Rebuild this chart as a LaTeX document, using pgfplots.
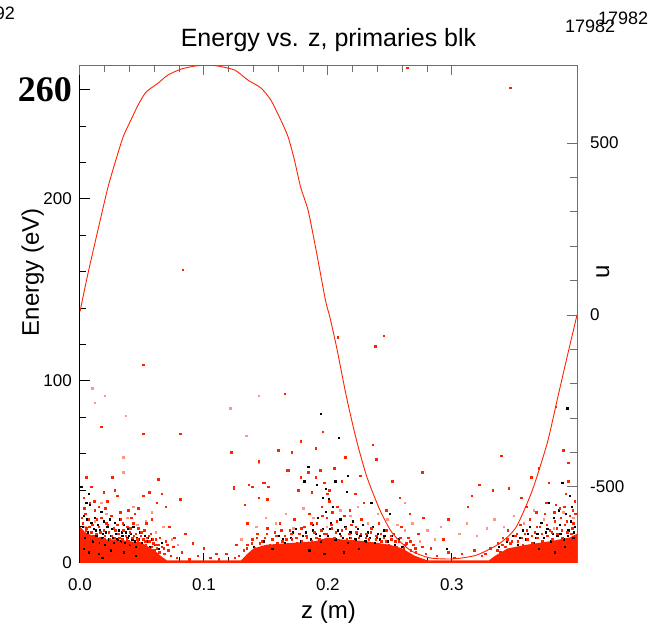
\documentclass[border=0pt]{standalone}
\usepackage{pgfplots}
\pgfplotsset{compat=1.18}
\usepackage{fontspec}
\setmainfont{Liberation Sans}
\newfontfamily\bigserif{Liberation Serif}

\definecolor{pr}{RGB}{255,34,0}
\definecolor{pk}{RGB}{255,150,130}
\definecolor{ax}{RGB}{110,110,110}

\begin{document}
\begin{tikzpicture}
\begin{axis}[
    scale only axis,
    width=497pt, height=498pt,
    xmin=0, xmax=0.401,
    ymin=0, ymax=273.6,
    axis x line*=bottom, axis y line*=left,
    axis line style={-, black, line width=1pt},
    tick align=inside,
    major tick length=10pt, minor tick length=6pt,
    tick style={black, line width=1pt},
    xtick={0,0.1,0.2,0.3},
    xticklabels={0.0,0.1,0.2,0.3},
    minor x tick num=4,
    ytick={0,100,200,260},
    yticklabels={0,100,200,{\fontsize{36}{36}\selectfont\bigserif\bfseries 260}},
    minor ytick={20,40,60,80,120,140,160,180,220,240},
    xticklabel style={font=\fontsize{17}{17}\selectfont, inner sep=0pt, anchor=north, yshift=-15pt},
    yticklabel style={font=\fontsize{17}{17}\selectfont, inner sep=0pt, anchor=east, xshift=-8pt},
    xlabel={z (m)},
    xlabel style={font=\fontsize{24}{24}\selectfont, at={(axis description cs:0.5,-0.098)}, anchor=center},
    ylabel={Energy (eV)},
    ylabel style={font=\fontsize{24}{24}\selectfont, at={(axis description cs:-0.095,0.584)}, anchor=center},
    title={Energy vs. z, primaries blk},
    title style={font=\fontsize{25}{25}\selectfont, at={(axis description cs:0.5,1)}, anchor=base, yshift=12pt},
]
% dense band near the floor
\addplot[fill=pr, draw=none] coordinates {
(0,0) (0,20) (0.004,17) (0.01,15) (0.02,13) (0.03,13) (0.04,12) (0.05,11) (0.055,9) (0.06,7)
(0.065,4) (0.07,1.5) (0.13,1.5) (0.135,5) (0.14,8) (0.15,10) (0.17,11) (0.19,12) (0.20,14)
(0.21,13) (0.23,12) (0.25,10) (0.26,8) (0.27,4) (0.28,1.5) (0.33,1.5) (0.335,4) (0.345,8)
(0.36,10) (0.38,12) (0.395,14) (0.401,16) (0.401,0)} \closedcycle;

% pale red points
\addplot[pk, only marks, mark=square*, mark size=0.75pt] coordinates {
(0.004,20)(0.012,23)(0.021,27)(0.029,18)(0.038,25)(0.046,21)(0.053,23)(0.061,17)(0.067,20)(0.074,13)
(0.017,33)(0.043,31)(0.058,28)(0.079,10)(0.142,20)(0.150,25)(0.158,22)(0.166,27)(0.172,19)(0.180,30)
(0.188,25)(0.199,20)(0.210,29)(0.218,26)(0.224,31)(0.232,22)(0.240,27)(0.248,24)(0.256,21)(0.262,18)
(0.268,22)(0.274,12)(0.280,18)(0.286,13)(0.291,20)(0.306,16)(0.312,22)(0.320,15)(0.328,19)(0.334,24)
(0.342,20)(0.350,26)(0.358,22)(0.366,29)(0.374,24)(0.382,19)(0.390,28)(0.398,25)(0.130,13)(0.262,33)
(0.010,96)(0.020,92)(0.012,88)(0.037,81)(0.035,58)(0.035,50)(0.121,85)(0.144,92)(0.134,70)(0.144,55)
};

% black points (primaries)
\addplot[black, only marks, mark=square*, mark size=0.65pt] coordinates {
(0.002,20)(0.003,26)(0.004,14)(0.005,33)(0.006,17)(0.008,32)(0.009,22)(0.010,12)(0.011,19)(0.012,25)
(0.013,15)(0.014,21)(0.015,11)(0.016,18)(0.017,28)(0.018,14)(0.019,23)(0.020,10)(0.021,17)(0.022,20)
(0.023,13)(0.024,24)(0.025,15)(0.026,19)(0.027,11)(0.028,22)(0.029,16)(0.030,13)(0.031,18)(0.032,24)
(0.033,12)(0.034,15)(0.035,21)(0.036,11)(0.037,17)(0.038,14)(0.039,19)(0.040,10)(0.041,16)(0.042,13)
(0.043,20)(0.044,12)(0.045,9)(0.046,14)(0.048,17)(0.050,11)(0.052,15)(0.054,12)(0.056,9)(0.058,13)
(0.060,10)(0.063,8)(0.066,11)(0.001,42)(0.007,38)(0.003,8)(0.007,6)(0.015,5)(0.025,7)(0.035,6)
(0.045,4)(0.018,3)
(0.140,9)(0.148,12)(0.155,8)(0.160,15)(0.165,11)(0.170,14)(0.174,19)(0.178,12)(0.181,45)(0.184,53)
(0.182,17)(0.186,13)(0.188,21)(0.190,16)(0.192,25)(0.194,82)(0.194,12)(0.196,36)(0.196,19)(0.198,28)
(0.200,15)(0.202,22)(0.204,31)(0.206,45)(0.206,13)(0.208,18)(0.209,69)(0.210,24)(0.212,14)(0.214,20)
(0.215,39)(0.216,48)(0.216,11)(0.218,17)(0.220,23)(0.222,13)(0.224,19)(0.226,15)(0.228,21)(0.230,12)
(0.232,17)(0.234,14)(0.236,20)(0.238,11)(0.240,16)(0.242,13)(0.245,18)(0.248,12)(0.251,15)(0.254,10)
(0.257,13)(0.260,9)(0.191,43)(0.185,7)(0.197,5)(0.213,6)(0.225,8)(0.296,8)(0.250,27)(0.235,33)
(0.338,9)(0.344,12)(0.349,15)(0.353,10)(0.357,18)(0.360,13)(0.363,20)(0.366,11)(0.369,16)(0.372,22)
(0.374,14)(0.377,19)(0.380,12)(0.382,25)(0.385,15)(0.387,21)(0.389,44)(0.390,13)(0.392,27)(0.393,85)
(0.394,18)(0.396,23)(0.397,31)(0.398,14)(0.399,20)(0.395,37)(0.386,29)(0.378,33)(0.370,8)(0.383,6)
(0.391,9)
(0.0055,24)(0.0125,18)(0.0185,16)(0.0265,14)(0.0335,17)(0.0395,15)(0.0475,13)(0.0545,14)(0.1635,13)(0.1715,17)
(0.1795,15)(0.1875,18)(0.1935,15)(0.2015,19)(0.2095,16)(0.2175,14)(0.2235,16)(0.2315,15)(0.2395,14)(0.2455,15)
(0.3545,14)(0.3615,16)(0.3675,14)(0.3755,17)(0.3815,16)(0.3875,16)(0.3935,15)(0.3985,17)(0.2005,35)(0.1985,41)
};

% red points (all particles)
\addplot[pr, only marks, mark=square*, mark size=0.75pt] coordinates {
(0.001,16)(0.002,22)(0.003,12)(0.004,27)(0.005,19)(0.006,14)(0.007,24)(0.008,11)(0.009,17)(0.010,21)
(0.011,13)(0.012,29)(0.013,16)(0.014,11)(0.015,20)(0.016,14)(0.017,25)(0.018,12)(0.019,18)(0.020,15)
(0.021,22)(0.022,11)(0.023,17)(0.024,13)(0.025,26)(0.026,10)(0.027,19)(0.028,14)(0.029,12)(0.030,21)
(0.031,16)(0.032,11)(0.033,24)(0.034,13)(0.035,18)(0.036,10)(0.037,15)(0.038,20)(0.039,12)(0.040,17)
(0.041,11)(0.042,14)(0.043,22)(0.044,10)(0.045,16)(0.046,13)(0.047,19)(0.048,11)(0.049,15)(0.050,9)
(0.051,13)(0.052,18)(0.053,10)(0.054,14)(0.055,8)(0.056,12)(0.057,16)(0.058,9)(0.059,11)(0.060,7)
(0.061,13)(0.062,8)(0.063,10)(0.064,6)(0.066,9)(0.068,5)(0.069,12)(0.071,7)(0.073,4)(0.075,9)
(0.078,3)(0.082,6)(0.088,2)(0.095,4)(0.105,3)(0.112,2)(0.118,5)(0.125,3)
(0.005,47)(0.026,47)(0.019,39)(0.030,37)(0.051,37)(0.056,39)(0.066,38)(0.081,35)(0.069,31)(0.039,29)
(0.085,16)(0.100,8)(0.063,46)(0.051,109)(0.017,75)(0.051,71)(0.081,71)(0.083,161)(0.008,33)(0.015,31)
(0.044,27)(0.058,24)(0.072,20)(0.003,36)(0.022,34)(0.047,30)(0.062,33)(0.076,14)(0.091,11)(0.009,42)
(0.028,40)
(0.0015,25)(0.0045,18)(0.0075,20)(0.0105,15)(0.0135,24)(0.0165,17)(0.0195,13)(0.0225,21)(0.0255,15)(0.0285,18)
(0.0315,14)(0.0345,22)(0.0375,13)(0.0405,19)(0.0435,15)(0.0465,12)(0.0495,17)(0.0525,12)(0.0555,15)(0.0585,13)
(0.0615,10)(0.0645,14)(0.0675,8)(0.0705,10)(0.0035,30)(0.0115,34)(0.0205,30)(0.0325,28)(0.0415,25)(0.0535,22)
(0.128,4)(0.132,7)(0.135,10)(0.137,5)(0.139,13)(0.141,8)(0.143,16)(0.145,11)(0.147,9)(0.149,14)
(0.151,19)(0.153,10)(0.155,13)(0.157,17)(0.159,11)(0.161,22)(0.163,12)(0.165,15)(0.167,10)(0.169,18)
(0.171,13)(0.173,24)(0.175,11)(0.177,16)(0.179,12)(0.181,20)(0.183,14)(0.185,27)(0.187,12)(0.189,17)
(0.191,22)(0.193,13)(0.195,31)(0.197,16)(0.199,25)(0.200,13)(0.201,34)(0.203,19)(0.205,14)(0.207,23)
(0.209,12)(0.211,18)(0.213,26)(0.215,13)(0.217,16)(0.219,21)(0.221,12)(0.223,17)(0.225,14)(0.227,24)
(0.229,11)(0.231,16)(0.233,13)(0.235,19)(0.237,10)(0.239,15)(0.241,22)(0.243,12)(0.245,14)(0.247,18)
(0.249,10)(0.251,13)(0.253,16)(0.255,9)(0.257,12)(0.259,20)(0.261,8)(0.263,11)(0.265,14)(0.267,7)
(0.269,10)(0.271,6)(0.273,16)(0.276,9)(0.279,5)(0.283,8)(0.288,4)(0.293,13)(0.297,6)(0.302,3)
(0.308,5)(0.313,31)(0.316,37)(0.322,43)(0.318,7)(0.324,4)
(0.1345,8)(0.1385,11)(0.1425,14)(0.1465,12)(0.1505,16)(0.1545,13)(0.1585,15)(0.1625,18)(0.1665,13)(0.1705,16)
(0.1745,14)(0.1785,19)(0.1825,15)(0.1865,22)(0.1905,14)(0.1945,18)(0.1985,16)(0.2025,21)(0.2065,17)(0.2105,15)
(0.2145,19)(0.2185,14)(0.2225,20)(0.2265,16)(0.2305,14)(0.2345,17)(0.2385,13)(0.2425,16)(0.2465,12)(0.2505,15)
(0.2545,12)(0.2585,14)(0.2625,10)(0.2665,12)(0.2705,8)(0.1995,38)(0.2035,28)(0.1955,26)(0.2075,31)(0.2175,29)
(0.124,42)(0.136,43)(0.144,56)(0.149,44)(0.167,51)(0.151,35)(0.133,32)(0.135,22)(0.126,10)(0.110,5)
(0.165,93)(0.122,61)(0.160,62)(0.171,61)(0.178,67)(0.196,72)(0.190,63)(0.168,51)(0.184,50)(0.194,51)
(0.178,47)(0.190,47)(0.124,41)(0.139,42)(0.148,44)(0.152,42)(0.144,36)(0.176,40)(0.187,39)(0.201,40)
(0.208,124)(0.245,125)(0.238,119)(0.236,65)(0.239,57)(0.276,50)(0.252,45)(0.273,16)(0.277,25)(0.264,272)
(0.211,45)(0.222,38)(0.229,33)(0.247,29)(0.258,36)(0.266,27)(0.205,52)(0.214,58)(0.197,44)(0.226,48)
(0.327,5)(0.331,8)(0.334,3)(0.337,11)(0.339,6)(0.341,14)(0.343,9)(0.345,18)(0.347,11)(0.349,7)
(0.351,15)(0.353,12)(0.355,21)(0.357,10)(0.359,16)(0.361,13)(0.363,24)(0.365,11)(0.367,17)(0.369,14)
(0.371,20)(0.373,12)(0.375,27)(0.377,15)(0.379,18)(0.381,13)(0.383,23)(0.385,16)(0.387,30)(0.389,14)
(0.391,21)(0.393,17)(0.395,26)(0.397,19)(0.399,34)(0.398,22)(0.396,12)(0.392,38)(0.388,25)(0.384,32)
(0.376,33)(0.368,28)(0.360,31)
(0.3365,7)(0.3405,10)(0.3445,13)(0.3485,12)(0.3525,16)(0.3565,14)(0.3605,18)(0.3645,15)(0.3685,20)(0.3725,16)
(0.3765,21)(0.3805,17)(0.3845,19)(0.3885,18)(0.3925,23)(0.3965,16)(0.3995,27)(0.3975,29)(0.3905,31)(0.3825,28)
(0.340,59)(0.333,40)(0.346,41)(0.378,44)(0.384,86)(0.394,55)(0.394,45)(0.293,13)(0.297,24)(0.347,261)
(0.370,52)(0.356,36)(0.390,62)(0.364,47)
};
\end{axis}

\begin{axis}[
    scale only axis,
    width=497pt, height=498pt,
    xmin=0, xmax=0.401,
    ymin=-721, ymax=727,
    axis x line*=top, axis y line*=right,
    axis line style={-, ax, line width=1pt},
    tick align=inside,
    major tick length=10pt, minor tick length=7pt,
    tick style={ax, line width=1pt},
    xtick={0,0.1,0.2,0.3},
    xticklabels={},
    minor x tick num=4,
    ytick={-500,0,500},
    yticklabels={-500,0,500},
    minor y tick num=4,
    yticklabel style={font=\fontsize{17}{17}\selectfont, inner sep=0pt, anchor=west, xshift=13pt},
    ylabel={u},
    ylabel style={font=\fontsize{24}{24}\selectfont, at={(axis description cs:1.052,0.584)}, anchor=center},
]
\addplot[pr, line width=0.9pt, smooth, tension=0.4] coordinates {
(0,10) (0.0065,122) (0.0169,285) (0.0226,372) (0.0282,442) (0.0347,517) (0.0403,561)
(0.0468,610) (0.0532,648) (0.0629,674) (0.0710,698) (0.0815,715) (0.0927,724) (0.1020,727)
(0.1113,724) (0.125,712) (0.1355,683) (0.146,660) (0.154,625) (0.162,567) (0.168,517)
(0.173,451) (0.178,372) (0.184,305) (0.190,198) (0.198,44) (0.2016,-6) (0.207,-93)
(0.215,-238) (0.223,-363) (0.2315,-471) (0.242,-567) (0.252,-634) (0.266,-683) (0.282,-706)
(0.301,-709) (0.320,-698) (0.339,-663) (0.352,-616) (0.365,-509) (0.377,-372) (0.385,-247)
(0.393,-122) (0.401,0)};
\end{axis}

\node[font=\fontsize{18}{18}\selectfont, anchor=base east, inner sep=0pt] at (-65pt,543pt) {17992};
\node[font=\fontsize{18}{18}\selectfont, anchor=base west, inner sep=0pt] at (485pt,530pt) {17982};
\node[font=\fontsize{18}{18}\selectfont, anchor=base west, inner sep=0pt] at (518pt,538pt) {17982};

\pgfresetboundingbox
\useasboundingbox (current axis.south west) ++(-80pt,-66pt) rectangle ++(667pt,629pt);
\end{tikzpicture}
\end{document}
